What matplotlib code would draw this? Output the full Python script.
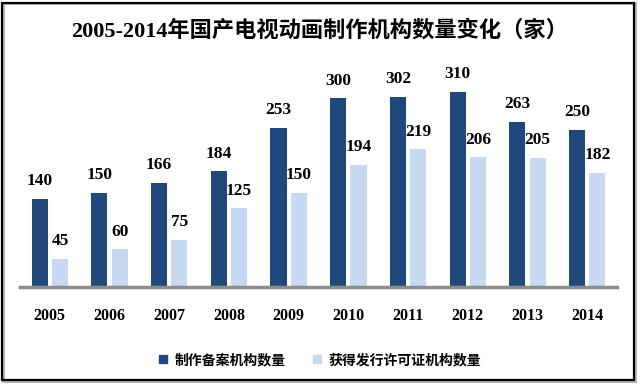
import matplotlib
matplotlib.use("Agg")
import matplotlib.pyplot as plt
from matplotlib.patches import Rectangle, Patch
import numpy as np

years = ["2005", "2006", "2007", "2008", "2009", "2010", "2011", "2012", "2013", "2014"]
production = [140, 150, 166, 184, 253, 300, 302, 310, 263, 250]
licensed = [45, 60, 75, 125, 150, 194, 219, 206, 205, 182]
series_names = ["制作备案机构数量", "获得发行许可证机构数量"]
title = "2005-2014年国产电视动画制作机构数量变化（家）"

FAM = ["Liberation Serif", "Noto Sans CJK SC"]
dark = "#1F497D"
light = "#C6D9F1"

fig = plt.figure(figsize=(6.4, 3.85), dpi=100)
ax = fig.add_axes([20/640, 98/385, 597/640, 227/385])

x = np.arange(len(years))
w = 0.27
off = 0.17
ax.bar(x - off, production, w, color=dark)
ax.bar(x + off, licensed, w, color=light)

for xi, v in zip(x, production):
    ax.annotate(str(v), (xi - off, v), xytext=(0, 7), textcoords="offset points",
                ha="center", va="bottom", fontsize=12.5, fontweight="bold", family=FAM)
for xi, v in zip(x, licensed):
    ax.annotate(str(v), (xi + off, v), xytext=(0, 7), textcoords="offset points",
                ha="center", va="bottom", fontsize=12.5, fontweight="bold", family=FAM)

ax.set_xlim(-0.5, len(years) - 0.5)
ax.set_ylim(0, 361)
ax.set_xticks(x)
ax.set_xticklabels(years, fontsize=11.5, fontweight="bold", family=FAM)
ax.tick_params(axis="x", length=0, pad=15)
ax.set_yticks([])
for s in ["top", "right", "left"]:
    ax.spines[s].set_visible(False)
ax.spines["bottom"].set_color("#8C8C8C")
ax.spines["bottom"].set_linewidth(2.5)

fig.text(0.5, 1 - 31/385, title, ha="center", va="center", fontsize=16,
         fontweight="bold", family=FAM)

handles = [Patch(color=dark), Patch(color=light)]
fig.legend(handles, series_names, loc="center", bbox_to_anchor=(320/640, 1 - 360/385),
           ncol=2, frameon=False, handlelength=0.6, handleheight=0.6,
           handletextpad=0.5, columnspacing=2.0,
           prop={"family": FAM, "weight": "bold", "size": 10})

fig.patches.append(Rectangle((3/640, 4/385), 632/640, 378/385, transform=fig.transFigure,
                             fill=False, edgecolor="#B0B0B0", linewidth=2.0))
fig.patches.append(Rectangle((2/640, 5/385), 632/640, 377/385, transform=fig.transFigure,
                             fill=False, edgecolor="black", linewidth=1.6))

fig.savefig("out.png", dpi=100, facecolor="white")
